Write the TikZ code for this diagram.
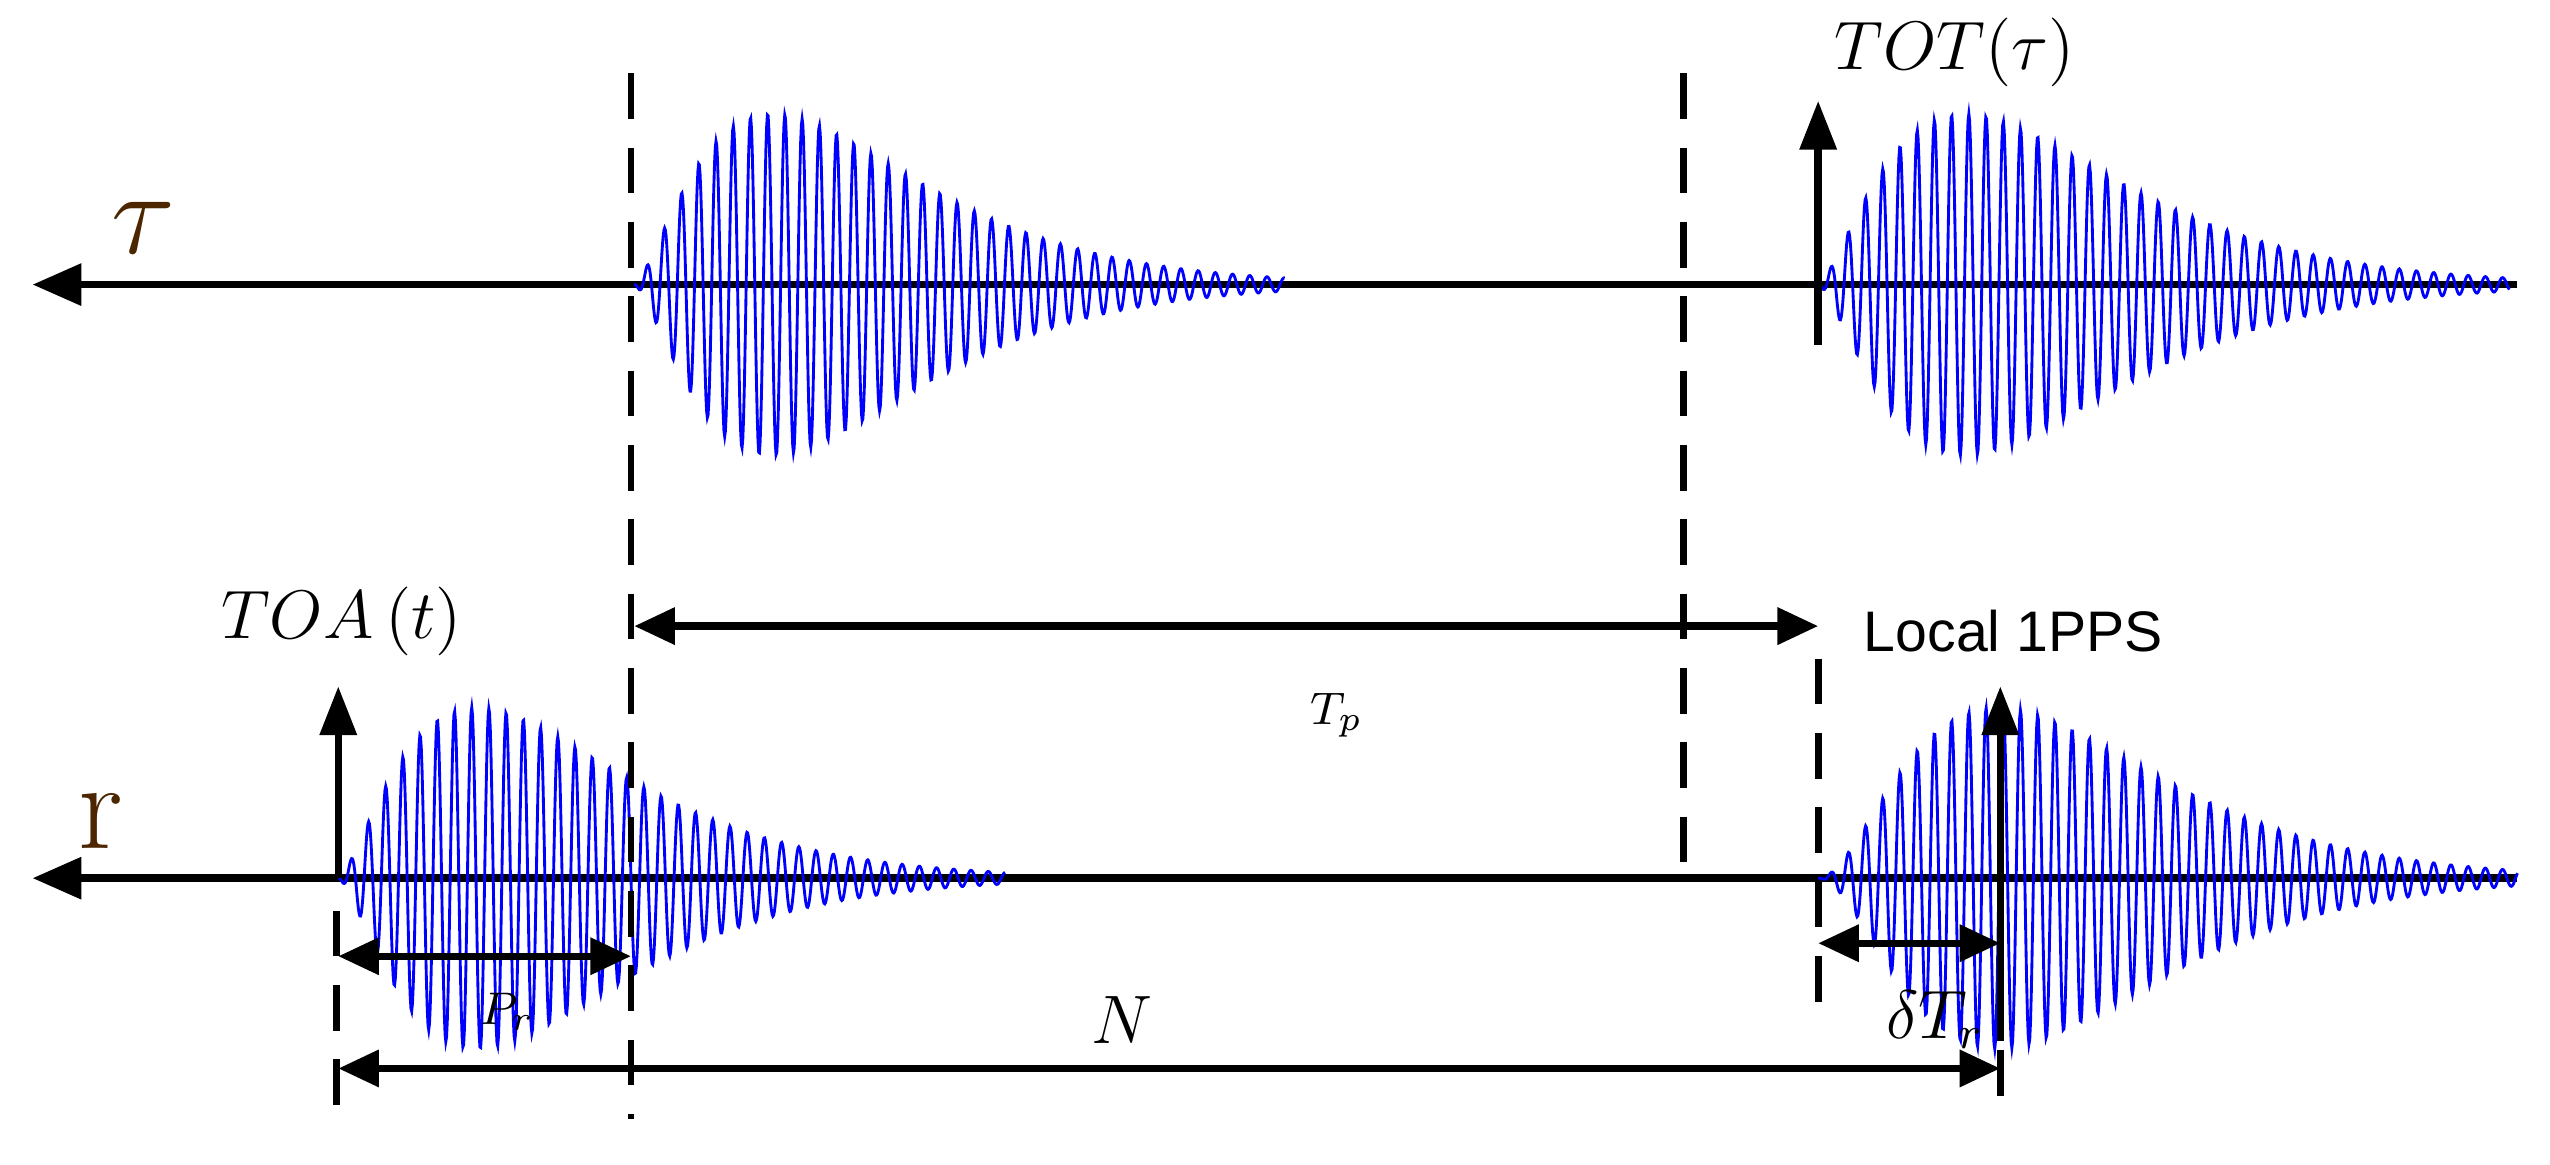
\documentclass[tikz,border=0pt]{standalone}
\usepackage{fontspec}
\setsansfont{Liberation Sans}
\usetikzlibrary{arrows.meta}
\begin{document}
\begin{tikzpicture}[x=0.01cm,y=-0.01cm,
  axis/.style={line width=1.3pt,-{Triangle[length=0.3cm,width=0.25cm]}},
  vline/.style={line width=1.2pt,dashed,dash pattern=on 8pt off 5pt},
  darrow/.style={line width=1.3pt,{Triangle[length=0.25cm,width=0.22cm]}-{Triangle[length=0.25cm,width=0.22cm]}},
  uparrow/.style={line width=1.3pt,-{Triangle[length=0.3cm,width=0.22cm]}},
  wave/.style={blue,line width=0.5pt},
  lab/.style={inner sep=1pt}]
\useasboundingbox (0,0) rectangle (1568,716);
% axes
\coordinate (t0) at (1548,175); \coordinate (t1) at (20,175);
\coordinate (r0) at (1548,540); \coordinate (r1) at (20,540);
\draw[axis] (t0) -- (t1);
\draw[axis] (r0) -- (r1);
\node[lab,text=black!70!orange] (tau) at (88,140) {\fontsize{20}{22}\selectfont$\tau$};
\node[lab,text=black!70!orange] (rl) at (62,505) {\fontsize{22}{24}\selectfont r};
% waves
\draw[wave] plot[domain=0:400,samples=900] ({390+\x},{175+105*(\x/85)^1.5*exp(1.5-1.5*\x/85)*sin(\x*34)});
\draw[wave] plot[domain=0:425,samples=900] ({1118+\x},{175+105*(\x/90)^1.5*exp(1.5-1.5*\x/90)*sin(\x*34)});
\draw[wave] plot[domain=0:410,samples=900] ({208+\x},{540+105*(\x/85)^1.5*exp(1.5-1.5*\x/85)*sin(\x*34)});
\draw[wave] plot[domain=0:430,samples=900] ({1118+\x},{540+105*(\x/110)^2*exp(2-2*\x/110)*sin(\x*34)});
% dashed lines
\coordinate (d1a) at (388,45); \coordinate (d1b) at (388,688);
\coordinate (d2a) at (1035,45); \coordinate (d2b) at (1035,530);
\coordinate (d3a) at (1118,405); \coordinate (d3b) at (1118,632);
\coordinate (d4a) at (207,560); \coordinate (d4b) at (207,692);
\coordinate (d5a) at (1230,600); \coordinate (d5b) at (1230,680);
\draw[vline] (d1a) -- (d1b);
\draw[vline] (d2a) -- (d2b);
\draw[vline] (d3a) -- (d3b);
\draw[vline] (d4a) -- (d4b);
\draw[vline] (d5a) -- (d5b);
% up arrows
\coordinate (u1a) at (1118,212); \coordinate (u1b) at (1118,62);
\coordinate (u2a) at (208,540); \coordinate (u2b) at (208,422);
\coordinate (u3a) at (1230,640); \coordinate (u3b) at (1230,422);
\draw[uparrow] (u1a) -- (u1b);
\draw[uparrow] (u2a) -- (u2b);
\draw[uparrow] (u3a) -- (u3b);
\node[lab] (tot) at (1202,32) {\fontsize{12}{14}\selectfont$TOT(\tau)$};
\node[lab] (toa) at (210,382) {\fontsize{12}{14}\selectfont$TOA\,(t)$};
\node[lab,font=\sffamily] (pps) at (1238,388) {\fontsize{10}{12}\selectfont Local 1PPS};
% double arrows
\coordinate (tpa) at (390,385); \coordinate (tpb) at (1118,385);
\coordinate (pra) at (208,588); \coordinate (prb) at (388,588);
\coordinate (dta) at (1118,580); \coordinate (dtb) at (1230,580);
\coordinate (na) at (208,657); \coordinate (nb) at (1230,657);
\draw[darrow] (tpa) -- (tpb);
\draw[darrow] (pra) -- (prb);
\draw[darrow] (dta) -- (dtb);
\draw[darrow] (na) -- (nb);
\node[lab] (tp) at (822,440) {\fontsize{8}{10}\selectfont$T_p$};
\node[lab] (pr) at (312,622) {\fontsize{8}{10}\selectfont$P_r$};
\node[lab] (dt) at (1190,627) {\fontsize{12}{14}\selectfont$\delta T_r$};
\node[lab] (n) at (690,627) {\fontsize{12}{14}\selectfont$N$};
\end{tikzpicture}
\end{document}
